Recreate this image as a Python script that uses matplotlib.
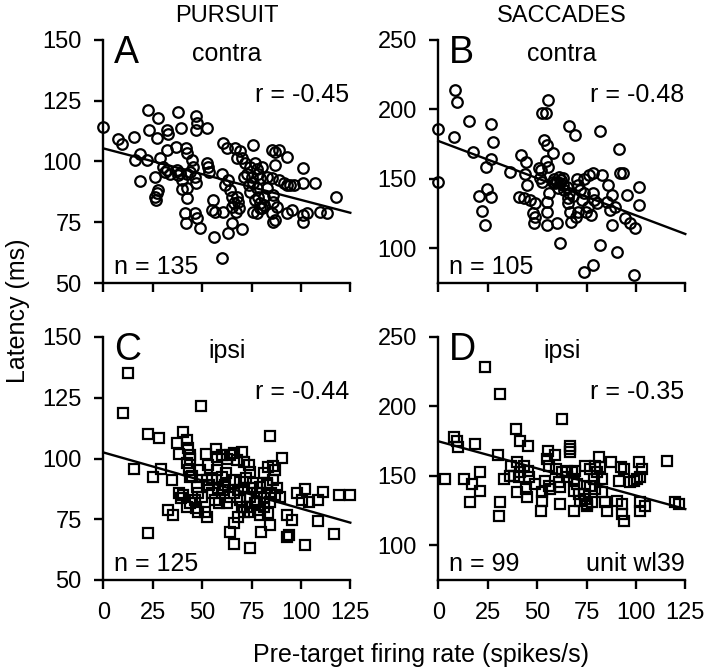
import matplotlib
matplotlib.use("Agg")
import matplotlib.pyplot as plt

plt.rcParams['font.family'] = ['Liberation Sans', 'DejaVu Sans']

# ---------------- data ----------------
# Panel A: pursuit, contra (circles)
a_rate = [0, 7.6, 9.6, 15.7, 16, 18.6, 21.9, 18.6, 22.5, 27.5,
          23.3, 27, 32, 32.9, 38, 39.2, 47, 47.3, 47, 52.4,
          28.7, 32, 36.8, 41.9, 42.2, 44.8, 26.2, 30, 31.2, 32.4,
          33.8, 37.2, 38, 38.8, 42.2, 43.9, 45.6, 46.4, 47, 42.2,
          39.7, 27.9, 26.2, 26.7, 27, 39.7, 42.6, 41.4, 41.9, 46.4,
          47.3, 49, 52.4, 53.2, 53.7, 60, 55.7, 54.9, 56.6, 56,
          60, 60.8, 62.5, 66.9, 69.2, 67.6, 70.2, 60.8, 63.3, 65,
          70, 61.6, 63.3, 64.2, 65, 65.9, 67.6, 68.4, 68.9, 65,
          67.2, 71.8, 74.3, 72.6, 75.2, 71, 76, 76.9, 77.7, 78.5,
          79.4, 80.2, 73.5, 74.3, 76, 77.7, 78.5, 79.4, 76.9, 80.2,
          81.1, 76, 77.7, 79.4, 81.1, 82.8, 85.3, 82.8, 85.8, 85.3,
          87, 88.7, 87, 92.9, 86.1, 87.8, 85.3, 87, 86.1, 88.7,
          91.2, 92.9, 94.6, 92.9, 95.4, 96.3, 101.3, 101.3, 101.3, 103,
          101, 107.2, 109.8, 113.2, 117.9]
a_lat = [114.3, 109.1, 107.4, 110.2, 100.6, 103.1, 100.6, 92.1, 121.2, 117.8,
         113, 109.5, 113, 111.3, 120.5, 113.9, 118.7, 115.7, 113, 113.9,
         101.3, 104.7, 106.1, 105.4, 103.4, 100.6, 93.8, 97.6, 95.8, 96.7,
         95, 96.5, 94.4, 95.4, 95, 95.8, 97.9, 93.8, 91, 89,
         92.4, 88.3, 85.5, 84.2, 86.9, 88.7, 84.8, 78.7, 74.6, 78.7,
         76.6, 72.5, 99.3, 97.9, 95.8, 95, 84.2, 80, 79.4, 69.1,
         60.1, 107.7, 105.4, 105.4, 104.5, 101.3, 101.3, 79.4, 70.4, 74.6,
         72.1, 90.3, 92.4, 88.3, 85.5, 82.8, 85.5, 83.5, 80.7, 81.4,
         79.4, 99.3, 97.9, 95, 93.8, 93.8, 106.8, 99.3, 96.8, 95,
         93.1, 97.9, 90.3, 87.6, 91, 88.9, 85.5, 82.8, 84.2, 80.7,
         85.5, 79.4, 78.7, 80.7, 82.1, 93.8, 93.1, 89, 86.2, 104.7,
         104, 104.7, 98.6, 102, 83.5, 81.4, 78.7, 75.9, 75.2, 92.4,
         91, 90.3, 90.3, 78.7, 80, 90.3, 97.2, 91, 77.9, 78.7,
         75.2, 91, 79.4, 78.7, 85.5]

# Panel B: saccades, contra (circles)
b_rate = [0, 0, 8.4, 9.6, 7.9, 15.7, 17.7, 26.7, 27.5, 26.5,
          24, 24.5, 20.8, 26.7, 22, 23.6, 36.3, 41.7, 44.4, 43.9,
          45.1, 41, 43.4, 49, 46.4, 47.8, 49, 48.5, 51.2, 51.5,
          52.4, 55.7, 52.4, 54.6, 53.5, 55.2, 57.9, 54.6, 55.7, 52,
          54.9, 54.9, 54.9, 57.9, 59.1, 60.3, 61.6, 63.3, 60.8, 63.7,
          65, 61.3, 63.3, 65.9, 69.3, 65.5, 61.6, 60, 65.5, 65.5,
          66.4, 67.3, 69.8, 70.6, 70.6, 71.8, 73.6, 73.9, 76.5, 78.2,
          72.5, 75.9, 77.5, 74.7, 81.6, 82.8, 78.5, 78.9, 80.2, 81.9,
          73.5, 78.2, 86.1, 87.8, 85.3, 87, 89.6, 87.8, 91.5, 92,
          93.4, 95.4, 94.6, 97.1, 99.6, 90.4, 98.8, 101.8, 101.8,
          58.5, 62, 66, 68, 70, 56]
b_lat = [185.7, 147.5, 214, 205.6, 179.9, 191.9, 169.6, 189.3, 176.8, 164.1,
         158.8, 142.5, 137.7, 136.7, 127.1, 116.8, 155.2, 167.2, 162.4, 153.3,
         145.6, 137.2, 136, 132.4, 134.8, 125.7, 122.8, 118.5, 157.6, 150.4,
         148, 206.8, 197.2, 197.2, 178, 174.4, 168.4, 163.1, 158.8, 156.4,
         133.6, 126, 116.8, 148, 146.8, 148, 146.8, 145.6, 143.2, 142,
         144.4, 151.6, 150.4, 188.1, 181.6, 164.8, 103.6, 118.5, 136, 132.4,
         126.4, 119.2, 122.8, 126.4, 145.6, 142, 139.6, 149.7, 152.8, 154,
         134.8, 130, 124, 126.4, 184.5, 152.8, 139.6, 134.8, 132.4, 102.4,
         83.2, 88, 145.6, 138.4, 133.6, 127.6, 130, 116.8, 171.3, 154,
         154, 138.4, 121.6, 118, 114.4, 97.1, 80.8, 144.4, 131.2,
         150, 149, 140, 138, 150, 140]

# Panel C: pursuit, ipsi (squares)
c_rate = [12.7, 10.1, 22.8, 28.4, 15.5, 25.3, 29.2, 34.6, 22.8, 32.9,
          35.5, 49.3, 40.5, 42.2, 37.5, 38.5, 43.1, 43.9, 42.5, 43.6,
          43.9, 38.5, 40.5, 39.2, 42.2, 43.9, 46.4, 47, 48.1, 51.5,
          52.4, 48.8, 47.3, 52, 53.2, 52.4, 53.7, 57.4, 60, 61.6,
          60.8, 54.9, 56.6, 58.3, 62.5, 64.2, 57.4, 60, 62.5, 64.2,
          66.2, 70.1, 67.6, 71, 73.5, 74.3, 65.9, 69.3, 68.4, 71,
          72.6, 69.3, 64.2, 66.2, 65.9, 68.4, 71, 74.3, 72.6, 74.3,
          76.9, 78.5, 79.4, 81.1, 75.2, 77.7, 79.4, 81.1, 79.9, 84.4,
          84.4, 81.1, 83.6, 85.8, 87, 90.3, 82.8, 86.1, 87.8, 89.5,
          87, 84.4, 83.6, 92.9, 95.4, 92.9, 93.8, 98, 102.2, 100.5,
          103.9, 108.9, 111.1, 102.2, 108.9, 116.5, 119.1, 125,
          45, 48, 50, 55, 58, 62, 66, 70, 72, 74,
          76, 78, 80, 83, 85, 44, 57]
c_lat = [135, 118.6, 110.1, 108.3, 95.5, 92.5, 95.5, 91.2, 69.2, 78.8,
         76.7, 121.6, 111, 107.6, 106.2, 101.8, 104.2, 101.4, 98, 95.3,
         92.5, 85.7, 85, 83.6, 80.2, 81.6, 82.9, 79.5, 78.1, 78.1,
         76, 95.3, 88.4, 101.8, 97.3, 91.2, 89.1, 95.3, 92.5, 89.1,
         87, 85.7, 82.9, 81.6, 81.6, 84.3, 100.8, 101.4, 100, 101.4,
         102.4, 102.8, 99.4, 98.7, 97.3, 94.6, 91.2, 90.5, 87, 87.7,
         84.3, 82.9, 69.9, 73.3, 65, 76, 78.1, 63, 80.2, 78.1,
         81.6, 78.8, 76.7, 80.2, 87.7, 85.7, 88.4, 83.6, 69.9, 72.6,
         109.3, 93.9, 96.6, 96.9, 95.3, 100.1, 89.1, 91.2, 87.7, 84.3,
         85, 82.2, 77.4, 76.7, 74.6, 67.8, 68.5, 85.7, 87.3, 82.9,
         82.2, 82.9, 86.3, 64.4, 74.4, 68.9, 85, 85,
         93, 86, 84, 92, 88, 94, 86, 80, 92, 84,
         90, 82, 86, 90, 86, 100, 104]

# Panel D: saccades, ipsi (squares)
d_rate = [23.8, 31.4, 3.5, 7.8, 9.6, 9.9, 18.7, 12.8, 17, 16.2,
          21.3, 21, 30, 31.4, 30.7, 33.4, 36.5, 37, 39.8, 41.5,
          40.7, 39.5, 41.5, 45.2, 38.1, 43.2, 45.2, 45.7, 39.8, 44.6,
          44.9, 49, 52.5, 52.5, 52, 55.5, 55, 55.9, 54.2, 55.9,
          56.7, 62.4, 59.2, 66.8, 66.8, 66.8, 59.7, 62.5, 65.1, 67.7,
          69.4, 60.9, 61.8, 65.1, 68.5, 70.2, 68.5, 61.8, 68.5, 71.1,
          73.6, 74.4, 71.9, 75.3, 74.4, 77, 79.5, 80.3, 82, 78.6,
          82.9, 81.2, 87.2, 92.3, 77, 79.5, 82.9, 75.3, 77.8, 85.4,
          84.6, 91.2, 90.4, 93, 93, 93.8, 97.2, 98.9, 100.6, 102.3,
          101.5, 103.2, 102.3, 104.8, 102.3, 115.5, 120, 121.7, 93.8]
d_lat = [228.2, 209, 147.7, 177.7, 175.3, 170.5, 173, 147.7, 144.1, 131,
         139.3, 152.5, 165, 131.4, 120.9, 147.7, 150.1, 157.3, 159.7, 152.5,
         148.9, 183.7, 175.3, 171.3, 150.1, 157.3, 153.7, 148.9, 138.1, 140.5,
         134.5, 144.1, 138.1, 132.1, 124.9, 168.1, 162.1, 157.3, 146.5, 142.9,
         140.5, 191, 165, 171.7, 169.3, 166.9, 154.9, 152.5, 153.7, 152.5,
         153.7, 145.3, 141.7, 148.9, 147.7, 144.1, 139.3, 129.7, 124.9, 136.9,
         136.9, 133.3, 132.1, 129.7, 157.3, 154.9, 157.3, 152.5, 156.1, 147.7,
         147.7, 163.3, 159.7, 156.1, 142.9, 140.5, 138.1, 128.5, 130.9, 124.9,
         130.9, 146.5, 132.1, 129.7, 122.5, 117.7, 145.3, 146.5, 147.7, 148.9,
         159.7, 154.9, 131, 128.5, 124.9, 161, 131, 129.7, 155]

# regression lines (value at rate 0 and rate 125)
fit_x = [0, 125]
a_fit = [105.4, 78.9]
b_fit = [177.3, 110.3]
c_fit = [102.5, 73.6]
d_fit = [174.9, 126.1]

letters = ["A", "B", "C", "D"]
sides = ["contra", "contra", "ipsi", "ipsi"]
r_labels = ["r = -0.45", "r = -0.48", "r = -0.44", "r = -0.35"]
n_labels = ["n = 135", "n = 105", "n = 125", "n = 99"]
col_titles = ["PURSUIT", "SACCADES"]
x_ticks = [0, 25, 50, 75, 100, 125]
pursuit_yticks = [50, 75, 100, 125, 150]
saccade_yticks = [100, 150, 200, 250]

# ---------------- figure ----------------
W, H = 711, 670
fig = plt.figure(figsize=(W / 100, H / 100), dpi=100)

def fx(px):
    return px / W

def fy(py):
    return 1 - py / H

left_x = [103.3, 438.3]
ax_w = 247.0
top_y = [40, 337]
ax_h = 243.0

panels = [
    (a_rate, a_lat, a_fit, 'o', (50, 150), pursuit_yticks, 0, 0),
    (b_rate, b_lat, b_fit, 'o', (75, 250), saccade_yticks, 0, 1),
    (c_rate, c_lat, c_fit, 's', (50, 150), pursuit_yticks, 1, 0),
    (d_rate, d_lat, d_fit, 's', (75, 250), saccade_yticks, 1, 1),
]

TXT = 18
for i, (xr, yl, fit, mk, ylim, yt, row, col) in enumerate(panels):
    x0 = left_x[col]
    y0 = top_y[row]
    ax = fig.add_axes([fx(x0), fy(y0 + ax_h), ax_w / W, ax_h / H])
    ms = 7.6 if mk == 'o' else 7.0
    ax.plot(xr, yl, linestyle='none', marker=mk, markersize=ms,
            markerfacecolor='none', markeredgecolor='black',
            markeredgewidth=1.6, clip_on=False, zorder=3)
    ax.plot(fit_x, fit, color='black', linewidth=1.7, clip_on=False, zorder=2)
    ax.set_xlim(0, 125)
    ax.set_ylim(*ylim)
    ax.set_xticks(x_ticks)
    ax.set_yticks(yt)
    for s in ['top', 'right']:
        ax.spines[s].set_visible(False)
    for s in ['left', 'bottom']:
        ax.spines[s].set_linewidth(1.7)
    ax.tick_params(direction='out', length=6.5, width=1.7, labelsize=17,
                   color='black')
    ax.tick_params(axis='y', pad=9)
    ax.tick_params(axis='x', pad=9)
    if row == 0:
        ax.set_xticklabels([])
    ax.patch.set_alpha(0)

    # annotations (pixel positions relative to the panel)
    fig.text(fx(x0 + 11), fy(y0 + 23), letters[i], fontsize=27,
             ha='left', va='baseline')
    fig.text(fx(x0 + ax_w / 2), fy(y0 + 21), sides[i], fontsize=TXT,
             ha='center', va='baseline')
    fig.text(fx(x0 + ax_w - 1), fy(y0 + 62), r_labels[i], fontsize=TXT,
             ha='right', va='baseline')
    fig.text(fx(x0 + 11), fy(y0 + 234), n_labels[i], fontsize=TXT,
             ha='left', va='baseline')
    if i == 3:
        fig.text(fx(x0 + ax_w - 1), fy(y0 + 234), "unit wl39", fontsize=TXT,
                 ha='right', va='baseline')

for col in range(2):
    fig.text(fx(left_x[col] + ax_w / 2), fy(16), col_titles[col], fontsize=17,
             ha='center', va='center')

fig.text(fx(18), fy(311), "Latency (ms)", fontsize=18, rotation=90,
         ha='center', va='center')
fig.text(fx(421), fy(655), "Pre-target firing rate (spikes/s)", fontsize=18,
         ha='center', va='center')

fig.savefig("out.png", dpi=100)
